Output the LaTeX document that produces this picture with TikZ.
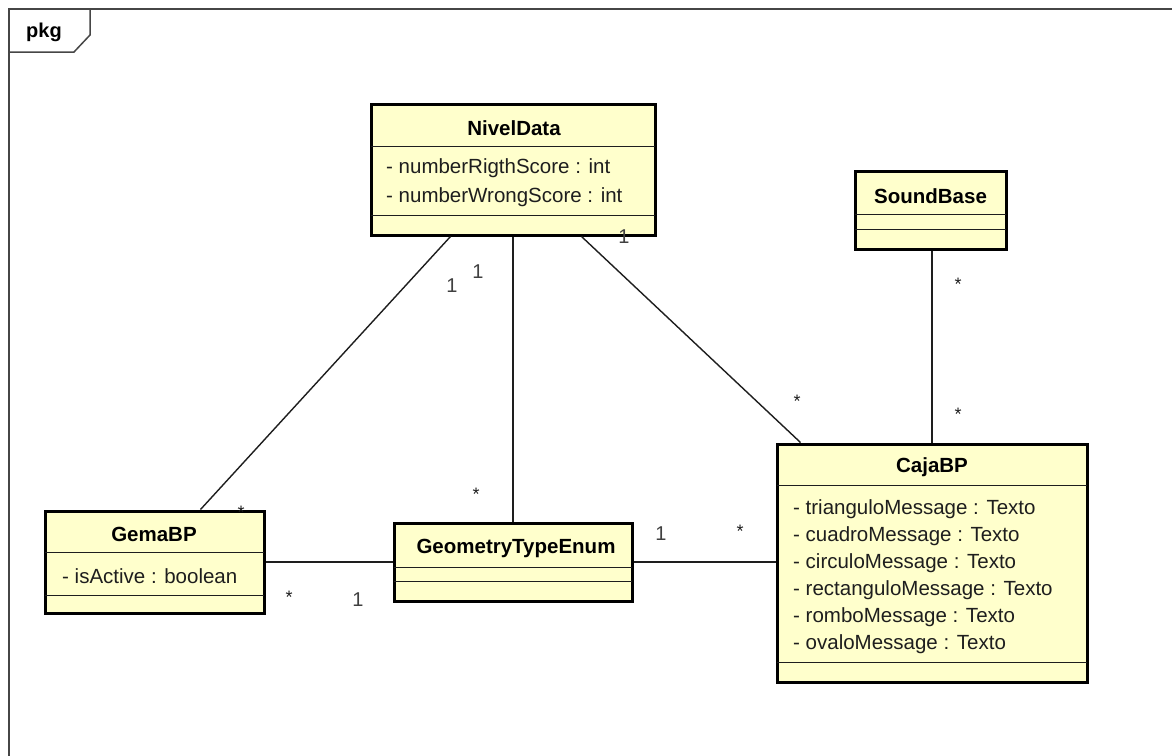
\documentclass[tikz,border=0pt]{standalone}
\usepackage{fontspec}
\setmainfont{Liberation Sans}
\usetikzlibrary{calc}
\definecolor{clsfill}{RGB}{255,255,204}
\definecolor{ink}{RGB}{30,30,30}
\definecolor{framegray}{RGB}{70,70,70}
\tikzset{
  x=1pt, y=-1pt,
  cls/.style={draw=black, line width=3pt, fill=clsfill, rectangle, inner sep=0pt},
  sep/.style={draw=ink, line width=1pt},
  title/.style={font=\fontsize{20.5}{23}\selectfont\bfseries, text=black, inner sep=0pt},
  attr/.style={font=\fontsize{20.5}{23}\selectfont, text=ink, anchor=west, inner sep=0pt},
  conn/.style={draw=ink, line width=1.4pt},
  mult/.style={font=\fontsize{20}{22}\selectfont, text=ink!85, anchor=base, inner sep=0pt},
  star/.style={font=\fontsize{18}{20}\selectfont, text=ink, anchor=base, inner sep=0pt},
}
\begin{document}
\begin{tikzpicture}
\useasboundingbox (0,0) rectangle (1172,755);
\clip (0,0) rectangle (1172,755);
\fill[white] (0,0) rectangle (1172,755);

% package frame with its name tab
\draw[framegray, line width=2pt] (9,770) -- (9,9) -- (1185,9);
\draw[framegray, line width=1.5pt] (9,52) -- (74,52) -- (90,35) -- (90,9);
\node[font=\fontsize{20}{22}\selectfont\bfseries, inner sep=0pt] (pkgname) at (44,32) {pkg};

% classes
\node[cls, minimum width=284pt, minimum height=131pt] (nivel) at (513,169.5) {};
\node[cls, minimum width=151pt, minimum height=78pt] (sound) at (930.5,210) {};
\node[cls, minimum width=310pt, minimum height=238pt] (caja) at (932,563) {};
\node[cls, minimum width=219pt, minimum height=102pt] (gema) at (154.5,562) {};
\node[cls, minimum width=238pt, minimum height=78pt] (geom) at (513,562) {};

% compartments
\draw[sep] (371,146) -- (655,146);
\draw[sep] (371,215) -- (655,215);
\draw[sep] (855,214) -- (1006,214);
\draw[sep] (855,229) -- (1006,229);
\draw[sep] (777,485) -- (1087,485);
\draw[sep] (777,662) -- (1087,662);
\draw[sep] (45,552) -- (264,552);
\draw[sep] (45,595) -- (264,595);
\draw[sep] (394,567) -- (632,567);
\draw[sep] (394,581) -- (632,581);

% class names
\node[title] (nivelname) at (514,128) {NivelData};
\node[title] (soundname) at (930.5,196) {SoundBase};
\node[title] (cajaname) at (932,467) {CajaBP};
\node[title] (gemaname) at (154,534) {GemaBP};
\node[title] (geomname) at (516,548) {GeometryTypeEnum};

% attributes
\node[attr] (n1) at (386,168) {- numberRigthScore : int};
\node[attr] (n2) at (386,197) {- numberWrongScore : int};
\node[attr] (c1) at (793,509) {- trianguloMessage : Texto};
\node[attr] (c2) at (793,536) {- cuadroMessage : Texto};
\node[attr] (c3) at (793,563) {- circuloMessage : Texto};
\node[attr] (c4) at (793,590) {- rectanguloMessage : Texto};
\node[attr] (c5) at (793,617) {- romboMessage : Texto};
\node[attr] (c6) at (793,644) {- ovaloMessage : Texto};
\node[attr] (g1) at (62,576) {- isActive : boolean};

% associations
\draw[conn] ($(nivel.south west)+(81,0)$) -- ($(gema.north west)+(157,0)$);
\draw[conn] (nivel.south) -- (geom.north);
\draw[conn] ($(nivel.south west)+(212,0)$) -- ($(caja.north west)+(25,0)$);
\draw[conn] (caja.north |- sound.south) -- (caja.north);
\draw[conn] (gema.east) -- (geom.west);
\draw[conn] (geom.east) -- (geom.east -| caja.west);

% multiplicities
\node[mult] (m1) at (452,292) {1};
\node[mult] (m2) at (478,278) {1};
\node[mult] (m3) at (624,243) {1};
\node[star] (m4) at (241,518) {*};
\node[star] (m5) at (476,500) {*};
\node[star] (m6) at (797,407) {*};
\node[star] (m7) at (958,290) {*};
\node[star] (m8) at (958,420) {*};
\node[star] (m9) at (289,603) {*};
\node[mult] (m10) at (358,606) {1};
\node[mult] (m11) at (661,540) {1};
\node[star] (m12) at (740,537) {*};
\end{tikzpicture}
\end{document}
